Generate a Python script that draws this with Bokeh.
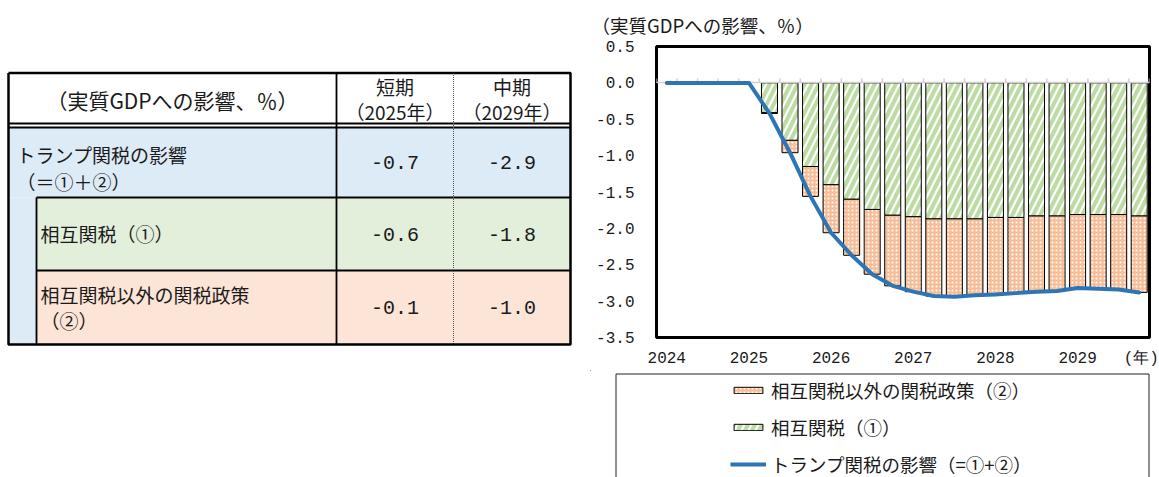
from bokeh.plotting import figure
from bokeh.layouts import row, column
from bokeh.models import (Range1d, FixedTicker, Legend, LegendItem, ColumnDataSource)
from bokeh.core.properties import value
from bokeh.embed import file_html
from bokeh.resources import INLINE

JP = "Noto Sans CJK JP"
NUM = "Liberation Mono"
INK = "#1a1a1a"

# ---------------- data ----------------
years = ["2024", "2025", "2026", "2027", "2028", "2029"]
quarters_per_year = 4
# Trump tariff total effect (line), 2024Q1 .. 2029Q4
total_effect = [0.0, 0.0, 0.0, 0.0, 0.0, -0.42, -0.96, -1.56, -2.06, -2.37, -2.63, -2.79,
                -2.87, -2.93, -2.94, -2.92, -2.91, -2.89, -2.87, -2.86, -2.82, -2.83, -2.84, -2.88]
# bars start at 2025Q2 (quarter index 5)
bar_first_quarter = 5
reciprocal = [-0.41, -0.79, -1.15, -1.40, -1.60, -1.74, -1.82, -1.84, -1.87, -1.87,
              -1.87, -1.85, -1.85, -1.83, -1.83, -1.81, -1.81, -1.81, -1.83]
other_policy = [-0.01, -0.17, -0.41, -0.66, -0.77, -0.89, -0.97, -1.03, -1.06, -1.07,
                -1.05, -1.06, -1.04, -1.04, -1.03, -1.01, -1.02, -1.03, -1.05]
y_ticks = [0.5, 0.0, -0.5, -1.0, -1.5, -2.0, -2.5, -3.0, -3.5]

series_names = ["相互関税以外の関税政策（②）", "相互関税（①）", "トランプ関税の影響（=①+②）"]
unit_label = "（実質GDPへの影響、％）"
x_unit = "(年)"
x_unit_pos = 23.1

# table
table_header = "（実質GDPへの影響、％）"
col_heads = [["短期", "（2025年）"], ["中期", "（2029年）"]]
row_labels = [["トランプ関税の影響", "（＝①＋②）"], ["相互関税（①）"], ["相互関税以外の関税政策", "（②）"]]
short_term = [-0.7, -0.6, -0.1]
mid_term = [-2.9, -1.8, -1.0]

C_BLUE = "#DDEBF7"
C_GREEN = "#E2EFDA"
C_ORANGE = "#FCE4D6"
LINE_BLUE = "#2E75B6"
BAR_ORANGE = "#F6BE98"
HATCH_GREEN = "#BCDCA4"

# ---------------- table figure ----------------
t = figure(width=590, height=477, x_range=Range1d(0, 590), y_range=Range1d(477, 0),
           output_backend="svg", toolbar_location=None, min_border=0,
           x_axis_type=None, y_axis_type=None, outline_line_color=None)
t.grid.visible = False
t.background_fill_color = "white"
t.border_fill_color = "white"
t.frame_align = False

L, R, TOP, BOT = 8, 570, 72.5, 344
C1, C2, IN = 336, 453, 36
H1, H2, R1, R2 = 123, 127, 197, 270

t.quad(left=[L, L, IN, IN], right=[R, IN, R, R], top=[H2, R1, R1, R2], bottom=[R1, BOT, R2, BOT],
       fill_color=[C_BLUE, C_BLUE, C_GREEN, C_ORANGE], line_color=None)
t.segment(x0=[L, L, IN, IN, C1, IN], y0=[H1, H2, R1, R2, TOP, R1],
          x1=[R, R, R, R, C1, IN], y1=[H1, H2, R1, R2, BOT, BOT],
          line_color="black", line_width=1.8)
t.segment(x0=[C2], y0=[TOP], x1=[C2], y1=[BOT], line_color="#555555", line_width=1, line_dash="1 1")
t.line(x=[L, R, R, L, L], y=[TOP, TOP, BOT, BOT, TOP], line_color="black", line_width=2.5)

fs = "19px"
t.text(x=[(L + C1) / 2], y=[99], text=[table_header], text_font=value(JP), text_font_size=value("21px"),
       text_align="center", text_baseline="middle", text_color=INK)
cx = [(C1 + C2) / 2, (C2 + R) / 2]
for i, (a, b) in enumerate(col_heads):
    t.text(x=[cx[i], cx[i]], y=[86, 111], text=[a, b], text_font=value(JP), text_font_size=value(fs),
           text_align="center", text_baseline="middle", text_color=INK)
t.text(x=[16, 16, 40, 40, 40],
       y=[154, 181, 233, 294, 320],
       text=[row_labels[0][0], row_labels[0][1], row_labels[1][0], row_labels[2][0], row_labels[2][1]],
       text_font=value(JP), text_font_size=value(fs), text_align="left", text_baseline="middle",
       text_color=INK)
row_y = [162, 234, 307]
t.text(x=[cx[0]] * 3, y=row_y, text=[f"{v:.1f}" for v in short_term], text_font=value(NUM),
       text_font_size=value("20px"), text_align="center", text_baseline="middle", text_color=INK)
t.text(x=[cx[1]] * 3, y=row_y, text=[f"{v:.1f}" for v in mid_term], text_font=value(NUM),
       text_font_size=value("20px"), text_align="center", text_baseline="middle", text_color=INK)

# ---------------- chart figure ----------------
n_q = len(years) * quarters_per_year
p = figure(width=569, height=370, x_range=Range1d(-0.5, n_q - 0.5), y_range=Range1d(-3.5, 0.5),
           output_backend="svg", toolbar_location=None,
           min_border_left=66, min_border_right=10, min_border_top=46, min_border_bottom=33)
p.frame_align = False
p.outline_line_color = "black"
p.outline_line_width = 3
p.grid.visible = False
p.background_fill_color = "white"
p.border_fill_color = "white"

p.title.text = unit_label
p.title.align = "left"
p.title.offset = -65
p.title.text_font = JP
p.title.text_font_size = "18.5px"
p.title.text_font_style = "normal"
p.title.text_color = INK
p.title.standoff = 17

bar_x = list(range(bar_first_quarter, n_q))
src = ColumnDataSource(dict(x=bar_x, recip=reciprocal, other=other_policy))
p.vbar_stack(["recip", "other"], x="x", width=0.78, source=src,
             fill_color=["white", BAR_ORANGE], line_color="black", line_width=1,
             hatch_pattern=["/", "."], hatch_color=[HATCH_GREEN, "white"],
             hatch_scale=[14, 4], hatch_weight=[4, 1.5])

bounds = [i - 0.5 for i in range(n_q + 1)]
p.hspan(y=[0], line_color="#D0D0D0", line_width=1.5)
p.segment(x0=bounds, y0=[0] * len(bounds), x1=bounds, y1=[0.06] * len(bounds),
          line_color="#D0D0D0", line_width=1.5)
p.line(x=list(range(n_q)), y=total_effect, line_color=LINE_BLUE, line_width=4,
       line_join="round", line_cap="round")

p.yaxis.ticker = FixedTicker(ticks=y_ticks)
p.yaxis.major_label_overrides = {t_: f"{t_:.1f}" for t_ in y_ticks}
x_ticks = [i * quarters_per_year for i in range(len(years))] + [x_unit_pos]
p.xaxis.ticker = FixedTicker(ticks=x_ticks)
x_over = {i * quarters_per_year: y for i, y in enumerate(years)}
x_over[x_unit_pos] = x_unit
p.xaxis.major_label_overrides = x_over
for ax in (p.xaxis, p.yaxis):
    ax.axis_line_color = None
    ax.major_tick_line_color = None
    ax.minor_tick_line_color = None
    ax.major_tick_out = 0
    ax.major_tick_in = 0
    ax.major_label_text_font = NUM
    ax.major_label_text_font_size = "16px"
    ax.major_label_text_color = INK
p.yaxis.major_label_standoff = 22
p.xaxis.major_label_standoff = 12

# ---------------- legend figure ----------------
lg = figure(width=569, height=107, x_range=Range1d(0, 569), y_range=Range1d(107, 0),
            output_backend="svg", toolbar_location=None, min_border=0,
            x_axis_type=None, y_axis_type=None, outline_line_color=None)
lg.frame_align = False
lg.grid.visible = False
lg.background_fill_color = "white"
lg.border_fill_color = "white"
lg.line(x=[25.5, 25.5, 558.5, 558.5], y=[110, 3.5, 3.5, 110], line_color="#222222", line_width=1)

# legend-only renderers, placed outside the visible range
r_other = lg.vbar(x=[-50], top=[-50], bottom=[-60], width=1, fill_color=BAR_ORANGE, line_color="black",
                  line_width=1, hatch_pattern=".", hatch_color="white", hatch_scale=4, hatch_weight=1.5)
r_recip = lg.vbar(x=[-50], top=[-50], bottom=[-60], width=1, fill_color="white", line_color="black",
                  line_width=1, hatch_pattern="/", hatch_color=HATCH_GREEN, hatch_scale=14, hatch_weight=4)
r_line = lg.line(x=[-50, -40], y=[-50, -50], line_color=LINE_BLUE, line_width=4)

legend = Legend(items=[LegendItem(label=series_names[0], renderers=[r_other]),
                       LegendItem(label=series_names[1], renderers=[r_recip]),
                       LegendItem(label=series_names[2], renderers=[r_line])],
                location=(140, 0), orientation="vertical", glyph_width=36, glyph_height=8,
                label_standoff=5, spacing=11, padding=0, margin=0, label_height=26,
                border_line_color=None, background_fill_alpha=0,
                label_text_font=JP, label_text_font_size="18.5px", label_text_color=INK)
lg.add_layout(legend)

layout = row(t, column(p, lg, spacing=0), spacing=0)
open("out.html", "w").write(file_html(layout, INLINE))
